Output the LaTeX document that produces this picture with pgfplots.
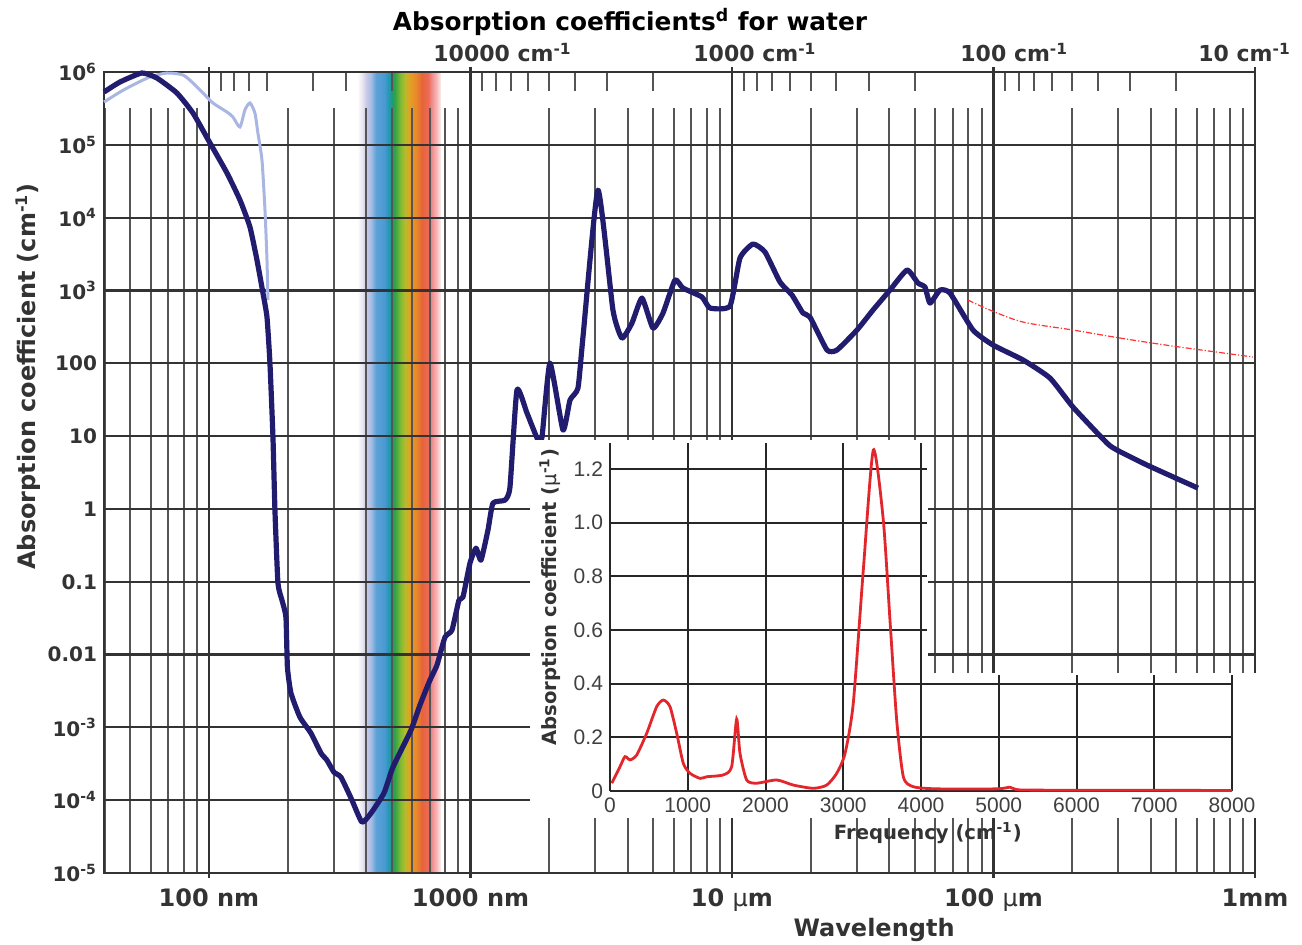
\documentclass[border=0pt]{standalone}
\usepackage{pgfplots}
\pgfplotsset{compat=1.18}
\usepackage{fontspec}
\setmainfont{DejaVu Sans}
\newfontfamily\insetfont{Liberation Sans}

\definecolor{h2oblue}{HTML}{211C6E}
\definecolor{uvblue}{HTML}{A9B5E2}
\definecolor{gridgray}{HTML}{333333}
\definecolor{minorgray}{HTML}{555555}
\definecolor{labelgray}{HTML}{333333}
\definecolor{insetred}{HTML}{E3262B}
% visible band colours
\definecolor{spA}{HTML}{EBE7F0}
\definecolor{spB}{HTML}{C9CBE9}
\definecolor{spC}{HTML}{A7BCE3}
\definecolor{spD}{HTML}{5BA2D8}
\definecolor{spE}{HTML}{4C9AD2}
\definecolor{spF}{HTML}{2798B9}
\definecolor{spG}{HTML}{1E9A78}
\definecolor{spH}{HTML}{33A345}
\definecolor{spI}{HTML}{7BB935}
\definecolor{spJ}{HTML}{B4BD2C}
\definecolor{spK}{HTML}{E2A224}
\definecolor{spL}{HTML}{E9882A}
\definecolor{spM}{HTML}{E6643A}
\definecolor{spN}{HTML}{EC6A55}
\definecolor{spO}{HTML}{F08E8E}
\definecolor{spP}{HTML}{F6BCBC}
\definecolor{spQ}{HTML}{FDF0F0}
\pgfdeclarehorizontalshading{visible}{100bp}{color(0bp)=(white); color(25bp)=(white);
  color(28bp)=(spA); color(30.4bp)=(spB); color(33.3bp)=(spC); color(36.3bp)=(spD);
  color(41.1bp)=(spE); color(43.5bp)=(spF); color(45.8bp)=(spG); color(47.6bp)=(spH);
  color(50.6bp)=(spI); color(53.6bp)=(spJ); color(56bp)=(spK); color(60.1bp)=(spL);
  color(63.7bp)=(spM); color(67.3bp)=(spN); color(69.6bp)=(spO); color(72.6bp)=(spP);
  color(75bp)=(spQ); color(100bp)=(white)}

\pgfplotstableread{
x y
39.7 5.31e5
45.7 7.29e5
55.4 9.69e5
63.2 8.27e5
75.4 5.15e5
86.9 2.73e5
100.9 1.06e5
117.2 4.10e4
131.4 1.745e4
143.5 7430
152.6 2620
160.9 921
166.7 431
171.1 100.6
175.7 9.69
178.8 0.963
183.6 0.0957
190.2 0.0559
197.0 0.0326
199.6 0.00671
205.9 0.00295
222.8 0.00138
245.5 8.32e-4
268.2 4.42e-4
282.7 3.54e-4
300.6 2.42e-4
319.8 2.07e-4
352.3 1.0e-4
384.7 4.99e-5
416.5 6.63e-5
467.0 1.25e-4
505.3 2.84e-4
592.2 9.15e-4
641.0 2.02e-3
699.9 4.45e-3
744.6 7.15e-3
798.9 0.0173
849.6 0.0216
903.6 0.0559
936.1 0.0614
995.6 0.180
1049.6 0.289
1097.0 0.198
1166.5 0.511
1219.0 1.20
1354.9 1.32
1416.0 1.99
1505.9 42.9
1644.9 20.7
1812.5 8.81
1877.5 9.69
2013.8 100.6
2258.3 12.1
2402.0 31.2
2576.9 45.6
2693.0 229
3073.0 2.39e4
3506.4 538
3795.2 222
4146.0 357
4527.6 786
4986.6 304
5447.6 489
6053.4 1389
6494 1079
7679 812
8240 573
9826 611
10730 2787
12030 4340
13374 3370
15262 1305
16962 865
18687 489
19875 431
23085 152
25207 152
30060 286
34610 538
40200 1013
46700 1906
51440 1264
54700 1114
57180 671
62450 1013
68190 921
83480 286
99560 178
129700 111
164500 62.6
201400 25.0
271700 8.01
296700 6.42
386400 4.00
605300 1.93
}\liquiddata

\pgfplotstableread{
x y
39.7 3.87e5
45.7 5.31e5
51.2 6.63e5
59.5 8.54e5
69.1 9.69e5
79.5 9.10e5
86.9 7.06e5
94.9 5.15e5
103.6 3.75e5
117.2 2.82e5
123.5 2.41e5
131.4 1.76e5
137.3 3.01e5
143.5 3.75e5
149.9 2.73e5
153.9 1.45e5
159.5 6.18e4
163.8 1.27e4
166.7 2620
168.1 738
}\uvdata

\pgfplotstableread{
x y
79890 738
96960 538
129700 368
201400 286
304600 222
485800 172
982700 122
}\irdata

\pgfplotstableread{
x y
22 0.029
129 0.091
193 0.128
257 0.116
343 0.134
472 0.215
600 0.314
686 0.339
772 0.314
858 0.215
943 0.103
1029 0.066
1158 0.047
1243 0.053
1458 0.060
1565 0.091
1629 0.268
1672 0.140
1758 0.041
1887 0.029
2144 0.041
2358 0.022
2615 0.010
2787 0.022
2916 0.066
3023 0.140
3129 0.327
3258 0.824
3387 1.271
3515 1.010
3601 0.637
3687 0.265
3773 0.053
3901 0.016
4202 0.008
4977 0.008
5145 0.014
5273 0.004
6000 0.003
8000 0.002
}\freqdata

\begin{document}
\begin{tikzpicture}
\useasboundingbox (-52pt,-36pt) rectangle (599pt,436.5pt);

% visible band
\begin{axis}[at={(0pt,0pt)}, anchor=south west, scale only axis,
  width=575.5pt, height=400.5pt, xmode=log, ymode=log,
  xmin=39.7, xmax=1e6, ymin=1e-5, ymax=1e6, hide axis]
  \addplot[draw=none, forget plot] coordinates {(100,1) (1000,1)};
  \shade[shading=visible] (axis cs:368.3,1e-5) rectangle (axis cs:771.3,1e6);
\end{axis}

% minor wavelength grid (starts a little below the top)
\begin{axis}[at={(0pt,0pt)}, anchor=south west, scale only axis,
  width=575.5pt, height=382.5pt, xmode=log, xmin=39.7, xmax=1e6, ymin=0, ymax=1,
  xtick={40,50,60,70,80,90,200,300,400,500,600,700,800,900,
         2000,3000,4000,5000,6000,7000,8000,9000,
         20000,30000,40000,50000,60000,70000,80000,90000,
         200000,300000,400000,500000,600000,700000,800000,900000},
  xticklabels={}, ytick=\empty, xminorticks=false,
  major tick length=0pt, xmajorgrids,
  major grid style={minorgray, line width=1pt},
  axis line style={draw=none}]
  \addplot[draw=none, forget plot] coordinates {(100,0.5) (1000,0.5)};
\end{axis}

% wavenumber ticks on top
\begin{axis}[at={(0pt,0pt)}, anchor=south west, scale only axis,
  width=575.5pt, height=400.5pt, xmode=log, xmin=39.7, xmax=1e6, ymin=0, ymax=1,
  xtick={111.1,125,142.9,166.7,250,333.3,500,
         1111,1250,1429,1667,2000,2500,3333,5000,
         11111,12500,14286,16667,20000,25000,33333,50000,
         111111,125000,142857,166667,200000,250000,333333,500000},
  xticklabels={}, ytick=\empty, xminorticks=false,
  xtick pos=right, xtick align=inside, major tick length=9.5pt,
  tick style={minorgray, line width=1pt},
  axis line style={draw=none}]
  \addplot[draw=none, forget plot] coordinates {(100,0.5) (1000,0.5)};
\end{axis}

% main axis
\begin{axis}[at={(0pt,0pt)}, anchor=south west, scale only axis,
  width=575.5pt, height=400.5pt, xmode=log, ymode=log,
  xmin=39.7, xmax=1e6, ymin=1e-5, ymax=1e6, clip=false,
  xtick={100,1000,10000,100000,1000000},
  xticklabels={100 nm,1000 nm,10 {\mdseries µ}m,100 {\mdseries µ}m,1mm},
  ytick={1e-5,1e-4,1e-3,1e-2,1e-1,1,10,100,1e3,1e4,1e5,1e6},
  yticklabels={10\textsuperscript{-5},10\textsuperscript{-4},10\textsuperscript{-3},0.01,0.1,1,10,100,
               10\textsuperscript{3},10\textsuperscript{4},10\textsuperscript{5},10\textsuperscript{6}},
  xminorticks=false, yminorticks=false,
  xtick pos=both, xticklabel pos=left, ytick pos=left,
  xtick align=center, ytick align=inside, major tick length=5pt,
  tick style={gridgray, line width=1.1pt},
  xmajorgrids, ymajorgrids,
  major grid style={gridgray, line width=1.1pt},
  axis line style={gridgray, line width=1.1pt},
  xticklabel style={font=\fontsize{12}{14}\selectfont\bfseries, text=labelgray, yshift=-2pt},
  yticklabel style={font=\fontsize{10}{12}\selectfont\bfseries, text=labelgray},
  title={Absorption coefficients\textsuperscript{d} for water},
  title style={at={(axis description cs:0.457,1)}, anchor=center, yshift=19pt,
    font=\fontsize{12.4}{14}\selectfont\bfseries},
  xlabel={Wavelength},
  every axis x label/.style={at={(axis description cs:0.669,0)}, anchor=base, yshift=-32pt,
    font=\fontsize{12}{14}\selectfont\bfseries, text=labelgray},
  ylabel={Absorption coefficient (cm\textsuperscript{-1})},
  every axis y label/.style={at={(axis description cs:-0.066,0.620)}, rotate=90, anchor=center,
    font=\fontsize{12}{14}\selectfont\bfseries, text=labelgray}]
  \addplot[uvblue, line width=1.5pt, smooth, tension=0.4] table {\uvdata};
  \addplot[h2oblue, line width=2.6pt, smooth, tension=0.3, line join=round] table {\liquiddata};
  \addplot[red!80, line width=0.6pt, densely dash dot, smooth] table {\irdata};
\end{axis}

% wavenumber labels
\begin{scope}[every node/.style={anchor=base west, font=\fontsize{11}{13}\selectfont\bfseries, text=labelgray, inner sep=0pt}]
  \node at (164.5pt,405.5pt) {10000 cm\textsuperscript{-1}};
  \node at (294.5pt,405.5pt) {1000 cm\textsuperscript{-1}};
  \node at (428pt,405.5pt) {100 cm\textsuperscript{-1}};
  \node at (547pt,405.5pt) {10 cm\textsuperscript{-1}};
\end{scope}

% white ground of the inset
\fill[white] (213pt,27.5pt) rectangle (412pt,216.5pt);
\fill[white] (412pt,27.5pt) rectangle (577pt,100pt);

% inset, upper part
\begin{axis}[at={(253pt,41pt)}, anchor=south west, scale only axis,
  width=158.5pt, height=174pt, xmin=0, xmax=4077, ymin=0, ymax=1.297,
  xtick={0,1000,2000,3000,4000}, xticklabels={},
  ytick={0,0.2,0.4,0.6,0.8,1.0,1.2}, yticklabels={0,0.2,0.4,0.6,0.8,1.0,1.2},
  grid=major, major grid style={black!85, line width=1pt},
  axis line style={draw=none}, major tick length=0pt,
  yticklabel style={font=\insetfont\fontsize{10.5}{12}\selectfont, text=black!75},
  ylabel={Absorption coefficient ({\mdseries µ}\textsuperscript{-1})},
  every axis y label/.style={at={(axis description cs:-0.189,0.557)}, rotate=90, anchor=center,
    font=\fontsize{9.8}{12}\selectfont\bfseries, text=labelgray}]
  \addplot[draw=none, forget plot] coordinates {(1000,0.5) (2000,0.5)};
\end{axis}

% inset, lower part with the curve
\begin{axis}[at={(253pt,41pt)}, anchor=south west, scale only axis, clip=false,
  width=311pt, height=58pt, xmin=0, xmax=8000, ymin=0, ymax=0.4324,
  xtick={0,1000,2000,3000,4000,5000,6000,7000,8000},
  xticklabels={0,1000,2000,3000,4000,5000,6000,7000,8000},
  ytick={0,0.2,0.4}, yticklabels={},
  grid=major, major grid style={black!85, line width=1pt},
  axis line style={draw=none}, major tick length=0pt,
  xticklabel style={font=\insetfont\fontsize{10.5}{12}\selectfont, text=black!75},
  xlabel={Frequency (cm\textsuperscript{-1})},
  every axis x label/.style={at={(axis description cs:0.511,0)}, anchor=base, yshift=-24.5pt,
    font=\fontsize{9.8}{12}\selectfont\bfseries, text=labelgray}]
  \addplot[insetred, line width=1.4pt, smooth, tension=0.4] table {\freqdata};
\end{axis}
\end{tikzpicture}
\end{document}
